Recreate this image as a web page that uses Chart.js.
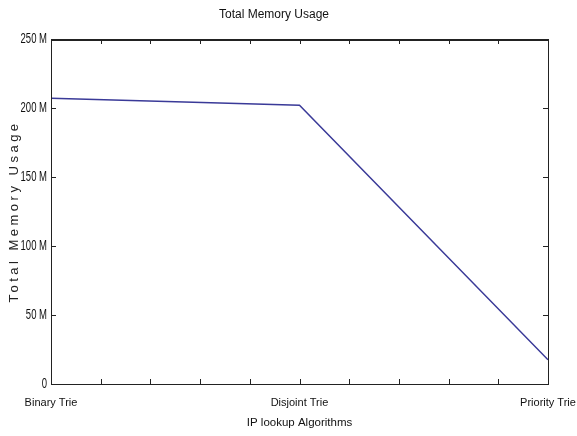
<!DOCTYPE html>
<html>
<head>
<meta charset="utf-8">
<script src="https://cdn.jsdelivr.net/npm/chart.js@4.4.0/dist/chart.umd.min.js"></script>
<style>
  html, body { margin: 0; padding: 0; background: #fff; }
  #wrap { width: 577px; height: 436px; }
</style>
</head>
<body>
<div id="wrap"><canvas id="chart" width="577" height="436"></canvas></div>
<script>
// data
const categories = ['Binary Trie', 'Disjoint Trie', 'Priority Trie'];
const memoryUsage = [207e6, 202e6, 17.5e6];
const yTickLabels = ['0', '50 M', '100 M', '150 M', '200 M', '250 M'];

const sans = "'Liberation Sans', Arial, sans-serif";
const axisColor = '#222';

// MATLAB style box with inward tick marks on all four sides
const matlabBox = {
    id: 'matlabBox',
    afterLayout(chart) {
        const ys = chart.scales.y;
        if (ys && !ys._patched) {
            const origTitle = ys.drawTitle.bind(ys);
            ys.drawTitle = function () {
                this.ctx.save();
                this.ctx.letterSpacing = '3.5px';
                origTitle();
                this.ctx.restore();
            };
            // squeeze the y tick labels so they look condensed like the original
            const origLabels = ys.drawLabels.bind(ys);
            ys.drawLabels = function (area) {
                const ax = this.right - this.options.ticks.padding;
                this.ctx.save();
                this.ctx.translate(ax, 0);
                this.ctx.scale(0.68, 1);
                this.ctx.translate(-ax, 0);
                origLabels(area);
                this.ctx.restore();
            };
            ys._patched = true;
        }
    },
    afterDatasetsDraw(chart) {
        const { ctx, chartArea: a, scales } = chart;
        const len = 5;
        ctx.save();
        ctx.strokeStyle = axisColor;
        ctx.lineWidth = 1;
        ctx.strokeRect(a.left + 0.5, a.top + 0.5, a.right - a.left, a.bottom - a.top);
        ctx.beginPath();
        scales.x.ticks.forEach(t => {
            const px = Math.round(scales.x.getPixelForValue(t.value)) + 0.5;
            ctx.moveTo(px, a.bottom); ctx.lineTo(px, a.bottom - len);
            ctx.moveTo(px, a.top); ctx.lineTo(px, a.top + len);
        });
        scales.y.ticks.forEach(t => {
            const py = Math.round(scales.y.getPixelForValue(t.value)) + 0.5;
            ctx.moveTo(a.left, py); ctx.lineTo(a.left + len, py);
            ctx.moveTo(a.right, py); ctx.lineTo(a.right - len, py);
        });
        ctx.stroke();
        // top edge looks heavier in the original
        ctx.lineWidth = 2;
        ctx.beginPath();
        ctx.moveTo(a.left, a.top + 1);
        ctx.lineTo(a.right + 1, a.top + 1);
        ctx.stroke();
        ctx.restore();
    }
};

new Chart(document.getElementById('chart'), {
    type: 'line',
    data: {
        datasets: [{
            data: categories.map((c, i) => ({ x: i, y: memoryUsage[i] })),
            borderColor: '#3a3a98',
            borderWidth: 1.5,
            pointRadius: 0,
            tension: 0,
            fill: false
        }]
    },
    options: {
        responsive: false,
        animation: false,
        layout: { padding: { left: 0, right: 29, top: 0, bottom: 0 } },
        plugins: {
            legend: { display: false },
            tooltip: { enabled: false },
            title: {
                display: true,
                text: 'Total Memory Usage',
                color: '#111',
                font: { family: sans, size: 12, weight: 'normal' },
                padding: { top: 7, bottom: 17.6 }
            }
        },
        scales: {
            x: {
                type: 'linear',
                min: 0,
                max: 2,
                grid: { display: false, drawTicks: false },
                border: { display: false },
                ticks: {
                    stepSize: 0.2,
                    autoSkip: false,
                    maxRotation: 0,
                    padding: 12,
                    color: '#111',
                    font: { family: sans, size: 11 },
                    callback: (v) => {
                        const r = Math.round(v);
                        return Math.abs(v - r) < 1e-6 ? categories[r] : '';
                    }
                },
                title: {
                    display: true,
                    text: 'IP lookup Algorithms',
                    color: '#111',
                    font: { family: sans, size: 11.5 },
                    padding: { top: 0, bottom: 6 }
                },
                afterFit: (s) => {
                    s.height = 52;
                    s.paddingLeft = 0;
                    s.paddingRight = 0;
                }
            },
            y: {
                min: 0,
                max: 250e6,
                grid: { display: false, drawTicks: false },
                border: { display: false },
                ticks: {
                    stepSize: 50e6,
                    padding: 4,
                    color: '#111',
                    font: { family: sans, size: 14 },
                    callback: (v, i) => yTickLabels[i]
                },
                title: {
                    display: true,
                    text: 'Total Memory Usage',
                    color: '#222',
                    font: { family: sans, size: 13 },
                    padding: { top: 7, bottom: 0 }
                },
                afterFit: (s) => {
                    s.width = 51;
                    s.paddingTop = 0;
                    s.paddingBottom = 0;
                }
            }
        }
    },
    plugins: [matlabBox]
});
</script>
</body>
</html>
